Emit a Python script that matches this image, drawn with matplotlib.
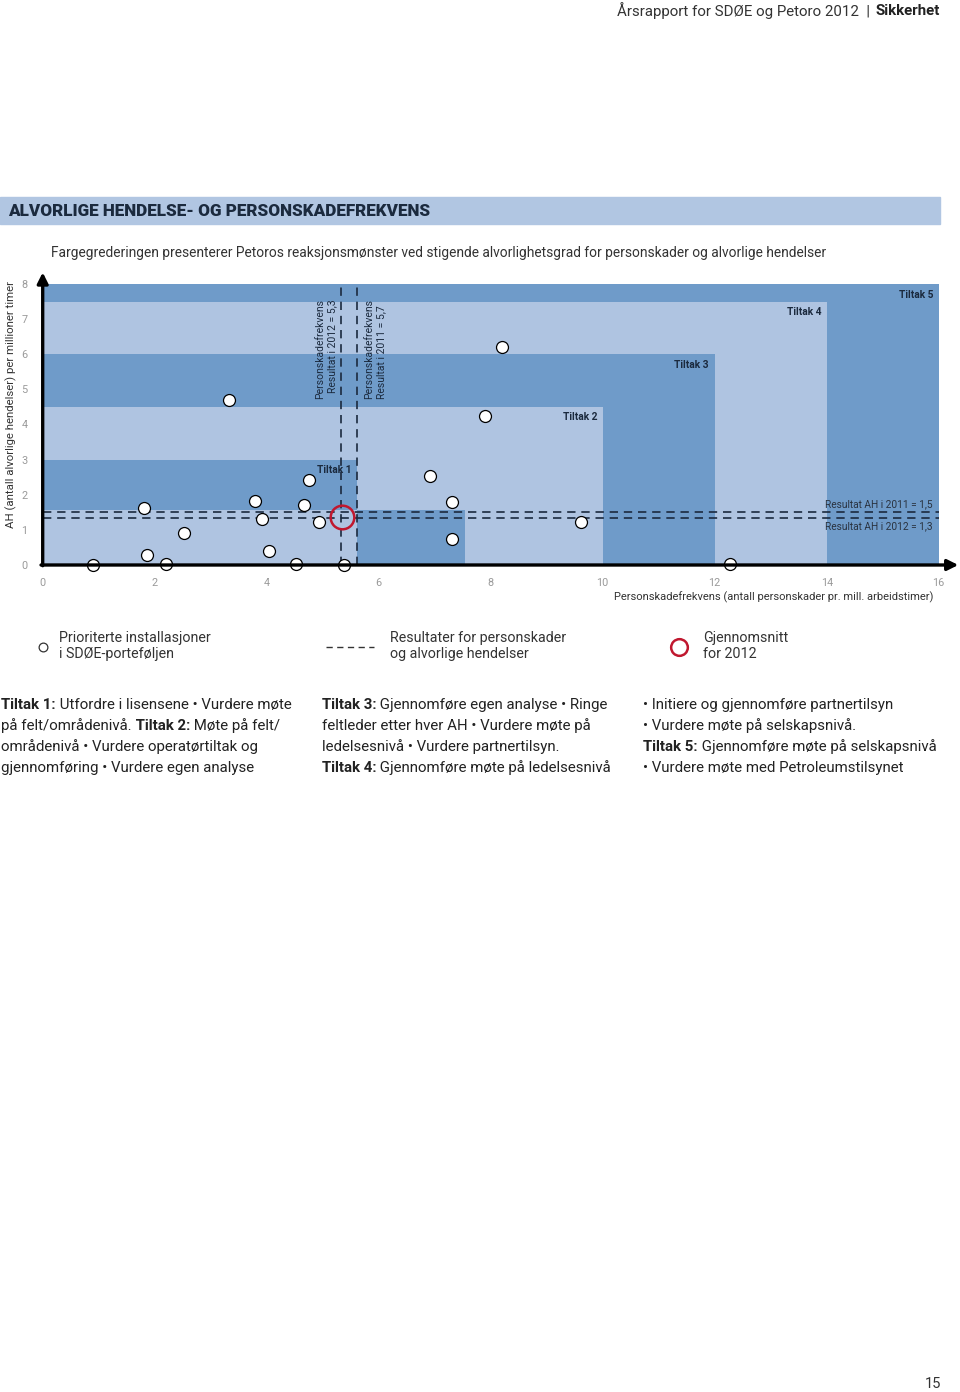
import matplotlib

matplotlib.use("Agg")
import matplotlib.pyplot as plt
from matplotlib.patches import Rectangle

W, H = 960, 1392
DARK = "#6f9bc9"
LIGHT = "#afc4e1"
NAVY = "#1b2a3e"
GREY = "#9a9a9a"
RED = "#c0182f"

plt.rcParams["font.family"] = ["Roboto", "DejaVu Sans"]

# --- data -----------------------------------------------------------------
# nested colour zones (drawn back to front): x-range, y-range, shade
zone_x0 = [0, 0, 0, 0, 0, 5.62, 0]
zone_x1 = [16, 14, 12, 10, 5.62, 7.55, 5.62]
zone_y1 = [8, 7.5, 6, 4.5, 3, 1.57, 1.57]
zone_shade = ["dark", "light", "dark", "light", "dark", "dark", "light"]

tiltak_names = ["Tiltak 1", "Tiltak 2", "Tiltak 3", "Tiltak 4", "Tiltak 5"]
tiltak_x = [5.52, 9.9, 11.9, 13.9, 15.9]
tiltak_y = [2.71, 4.22, 5.70, 7.19, 7.70]

inst_x = [0.89, 1.80, 1.86, 2.20, 2.52, 3.33, 3.80, 3.91, 4.05, 4.52, 4.67,
          4.76, 4.93, 5.38, 6.92, 7.31, 7.31, 7.90, 8.20, 9.61, 12.27]
inst_y = [0.0, 1.61, 0.28, 0.02, 0.92, 4.70, 1.81, 1.31, 0.39, 0.02, 1.71,
          2.42, 1.21, 0.0, 2.52, 1.79, 0.73, 4.25, 6.22, 1.22, 0.02]

avg_2012 = (5.34, 1.36)
pskf_2012, pskf_2011 = 5.32, 5.62
ah_2011, ah_2012 = 1.50, 1.34

x_ticks = list(range(0, 17, 2))
y_ticks = list(range(0, 9))


def fx(x):
    return x / W


def fy(y):
    return 1 - y / H


fig = plt.figure(figsize=(W / 100, H / 100), dpi=100)
fig.patch.set_facecolor("white")
renderer = fig.canvas.get_renderer()

# header
hdr_b = fig.text(fx(940), fy(11), "Sikkerhet", ha="right", va="center",
                 fontsize=10.8, weight="bold", color="#222222")
bw = hdr_b.get_window_extent(renderer).width
fig.text(fx(940 - bw - 6), fy(11), "Årsrapport for SDØE og Petoro 2012  |",
         ha="right", va="center", fontsize=10.8, color="#333333")

# title band
fig.patches.append(Rectangle((fx(0), fy(224)), fx(940), 27 / H,
                             transform=fig.transFigure, color="#b1c6e2", zorder=0))
fig.text(fx(8), fy(211), "ALVORLIGE HENDELSE- OG PERSONSKADEFREKVENS",
         ha="left", va="center", fontsize=12.3, weight="black", color=NAVY)
fig.text(fx(51), fy(253), "Fargegrederingen presenterer Petoros reaksjonsmønster "
         "ved stigende alvorlighetsgrad for personskader og alvorlige hendelser",
         ha="left", va="center", fontsize=9.95, color="#333333")

# --- main chart -------------------------------------------------------------
x0p, x1p, y0p, y1p = 42.7, 938.7, 565, 284
ax = fig.add_axes([fx(x0p), fy(y0p), (x1p - x0p) / W, (y0p - y1p) / H])
ax.set_xlim(0, 16)
ax.set_ylim(0, 8)
for s in ax.spines.values():
    s.set_visible(False)

for a, b, top, shade in zip(zone_x0, zone_x1, zone_y1, zone_shade):
    ax.add_patch(Rectangle((a, 0), b - a, top, color=DARK if shade == "dark" else LIGHT,
                           lw=0, zorder=1))

for name, tx, ty in zip(tiltak_names, tiltak_x, tiltak_y):
    ax.text(tx, ty, name, ha="right", va="center", fontsize=7.4, weight="bold",
            color=NAVY, zorder=3)

dash = dict(color=NAVY, lw=1.2, dashes=(5, 3.5), zorder=2)
ax.plot([pskf_2012, pskf_2012], [0, 8], **dash)
ax.plot([pskf_2011, pskf_2011], [0, 8], **dash)
ax.plot([0, 16], [ah_2011, ah_2011], **dash)
ax.plot([0, 16], [ah_2012, ah_2012], **dash)

ax.text(pskf_2012 - 0.06, 4.72, "Personskadefrekvens\nResultat i 2012 = 5,3",
        rotation=90, ha="right", va="bottom", fontsize=7.5, color=NAVY,
        linespacing=1.3, zorder=3)
ax.text(pskf_2011 + 0.12, 4.72, "Personskadefrekvens\nResultat i 2011 = 5,7",
        rotation=90, ha="left", va="bottom", fontsize=7.5, color=NAVY,
        linespacing=1.3, zorder=3)
ax.text(15.9, ah_2011 + 0.08, "Resultat AH i 2011 = 1,5", ha="right", va="bottom",
        fontsize=7.3, color="#2a3340", zorder=3)
ax.text(15.9, ah_2012 - 0.08, "Resultat AH i 2012 = 1,3", ha="right", va="top",
        fontsize=7.3, color="#2a3340", zorder=3)

ax.plot(inst_x, inst_y, "o", ms=8.6, mfc="white", mec="black", mew=0.9,
        zorder=5, clip_on=False)
ax.plot([avg_2012[0]], [avg_2012[1]], "o", ms=17, mfc="none", mec=RED, mew=1.8,
        zorder=6)

arrow = dict(arrowstyle="-|>", color="black", lw=2.4, mutation_scale=16,
             shrinkA=0, shrinkB=0)
ax.annotate("", xy=(0, 8.33), xytext=(0, -0.02), arrowprops=arrow,
            annotation_clip=False, zorder=7)
ax.annotate("", xy=(16.35, 0), xytext=(-0.03, 0), arrowprops=arrow,
            annotation_clip=False, zorder=7)

ax.set_xticks(x_ticks)
ax.set_yticks(y_ticks)
ax.tick_params(length=0, labelsize=7.8, labelcolor=GREY)
ax.tick_params(axis="x", pad=9)
ax.tick_params(axis="y", pad=11)

fig.text(fx(933), fy(597), "Personskadefrekvens (antall personskader pr. mill. arbeidstimer)",
         ha="right", va="center", fontsize=8, color="#333333")
fig.text(fx(11), fy(405), "AH (antall alvorlige hendelser) per millioner timer",
         ha="center", va="center", rotation=90, fontsize=8.2, color="#333333")

# --- legend -----------------------------------------------------------------
leg = fig.add_axes([0, 0, 1, 1], facecolor="none")
leg.set_xlim(0, W)
leg.set_ylim(H, 0)
leg.axis("off")
leg.plot([43], [647], "o", ms=6.3, mfc="white", mec="#333333", mew=0.9)
leg.plot([326, 374], [647, 647], color="#333333", lw=1.0, dashes=(4.5, 3.2))
leg.plot([679], [647], "o", ms=12, mfc="none", mec=RED, mew=1.8)
for lx, txt in [(59, "Prioriterte installasjoner\ni SDØE-porteføljen"),
                (390, "Resultater for personskader\nog alvorlige hendelser"),
                (703, "Gjennomsnitt\nfor 2012")]:
    leg.text(lx, 646, txt, ha="left", va="center", fontsize=10.3, color="#333333",
             linespacing=1.2)

# --- bottom text ------------------------------------------------------------
columns = [
    (1, [[("Tiltak 1:", True), (" Utfordre i lisensene • Vurdere møte", False)],
         [("på felt/områdenivå.", False), (" Tiltak 2:", True), (" Møte på felt/", False)],
         [("områdenivå • Vurdere operatørtiltak og", False)],
         [("gjennomføring • Vurdere egen analyse", False)]]),
    (322, [[("Tiltak 3:", True), (" Gjennomføre egen analyse • Ringe", False)],
           [("feltleder etter hver AH • Vurdere møte på", False)],
           [("ledelsesnivå • Vurdere partnertilsyn.", False)],
           [("Tiltak 4:", True), (" Gjennomføre møte på ledelsesnivå", False)]]),
    (643, [[("• Initiere og gjennomføre partnertilsyn", False)],
           [("• Vurdere møte på selskapsnivå.", False)],
           [("Tiltak 5:", True), (" Gjennomføre møte på selskapsnivå", False)],
           [("• Vurdere møte med Petroleumstilsynet", False)]]),
]
for cx, lines in columns:
    for i, parts in enumerate(lines):
        cur = cx
        yy = 705 + i * 21
        for txt, bold in parts:
            t = fig.text(fx(cur), fy(yy), txt, ha="left", va="center", fontsize=10.8,
                         weight="bold" if bold else "normal", color="#222222")
            cur += t.get_window_extent(renderer).width

fig.text(fx(941), fy(1384), "15", ha="right", va="center", fontsize=10.5,
         color="#333333")

fig.savefig("out.png", dpi=100, facecolor="white")
